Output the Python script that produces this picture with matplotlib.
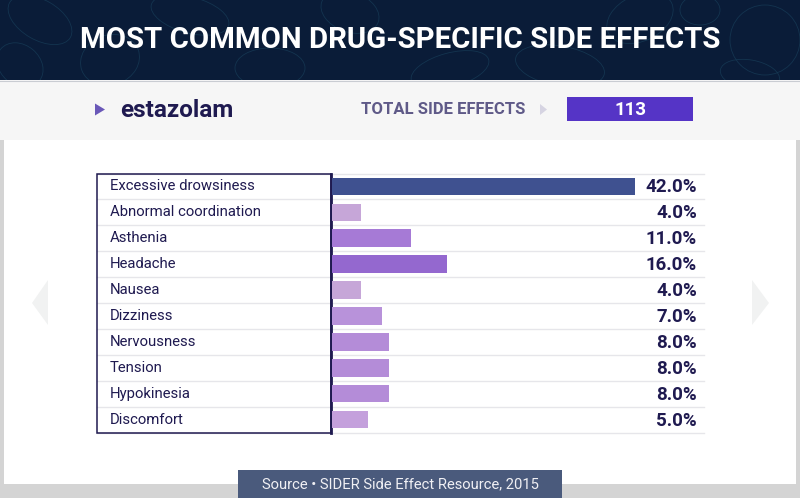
import matplotlib
matplotlib.use("Agg")
import matplotlib.pyplot as plt
from matplotlib.patches import Rectangle, Polygon, Ellipse

title = "MOST COMMON DRUG-SPECIFIC SIDE EFFECTS"
drug = "estazolam"
total_label = "TOTAL SIDE EFFECTS"
total_value = "113"
source = "Source • SIDER Side Effect Resource, 2015"
effects = ["Excessive drowsiness", "Abnormal coordination", "Asthenia", "Headache", "Nausea",
           "Dizziness", "Nervousness", "Tension", "Hypokinesia", "Discomfort"]
values = [42.0, 4.0, 11.0, 16.0, 4.0, 7.0, 8.0, 8.0, 8.0, 5.0]
bar_colors = ["#3f5190", "#c6a6d8", "#a67ad6", "#9468cf", "#c6a6d8",
              "#b892da", "#b48cd8", "#b48cd8", "#b48cd8", "#c4a0dc"]

INK = "#1f1a50"
W, H = 800, 498
fig = plt.figure(figsize=(8, 4.98), dpi=100, facecolor="#d4d4d4")
bg = fig.add_axes([0, 0, 1, 1])
bg.set_xlim(0, W); bg.set_ylim(H, 0); bg.axis("off")

bg.add_patch(Rectangle((4, 140), 792, 344, fc="white", ec="none"))
bg.add_patch(Rectangle((0, 0), W, 80, fc="#0a1c38", ec="none"))
# faint doodle texture in the header
for cx, cy, w, h, a in [(40, 20, 70, 40, 30), (110, 60, 60, 50, -20), (190, 15, 80, 36, 15),
                        (270, 68, 70, 40, 0), (350, 12, 60, 40, 20), (450, 70, 80, 34, -15),
                        (560, 66, 90, 40, 10), (640, 18, 70, 46, -25), (700, 10, 40, 30, 0),
                        (765, 40, 70, 70, 0), (750, 75, 60, 30, 10), (20, 65, 50, 40, 40)]:
    bg.add_patch(Ellipse((cx, cy), w, h, angle=a, fc="none", ec="#163a55", lw=0.6, alpha=.8))
bg.add_patch(Rectangle((0, 80), W, 60, fc="#f6f6f6", ec="none"))
bg.plot([0, W], [80.5, 80.5], color="#c9ccd2", lw=0.8)

bg.text(400, 40, title, color="white", ha="center", va="center", fontsize=21.2,
        family="Roboto", fontweight="bold")
bg.add_patch(Polygon([(95, 103.5), (95, 115.5), (105, 109.5)], fc="#6a58b8", ec="none"))
bg.text(120, 110, drug, color=INK, ha="left", va="center", fontsize=17.5, family="Roboto", fontweight="bold")
bg.text(525, 109, total_label, color="#5f5a88", ha="right", va="center", fontsize=12,
        family="Roboto", fontweight="bold")
bg.add_patch(Polygon([(540, 104), (540, 115), (547, 109.5)], fc="#d6d4e2", ec="none"))
bg.add_patch(Rectangle((567, 97), 126, 24, fc="#5534c6", ec="none"))
bg.text(630, 109.5, total_value, color="white", ha="center", va="center", fontsize=13.5,
        family="Roboto", fontweight="bold")
bg.add_patch(Polygon([(32, 303), (48, 280), (48, 325)], fc="#f1f2f2", ec="none"))
bg.add_patch(Polygon([(769, 303), (752, 280), (752, 325)], fc="#f1f2f2", ec="none"))

# bar chart axes: spans x 331.8..634.5 px for 0..42, ten rows y 173.5..432.5
X0, X1, Y0, Y1 = 331.8, 634.5, 173.5, 432.5
ax = fig.add_axes([X0 / W, 1 - Y1 / H, (X1 - X0) / W, (Y1 - Y0) / H])
ax.patch.set_alpha(0); ax.axis("off")
ax.set_xlim(0, max(values)); ax.set_ylim(len(values) - .5, -.5)
rows = range(len(values))
ax.barh(list(rows), values, height=0.68, color=bar_colors, zorder=3)

row_h = (Y1 - Y0) / len(values)
for i in range(len(values) + 1):
    bg.plot([97, 704], [Y0 + i * row_h] * 2, color="#e6e6ea", lw=1, zorder=1)
for i, (name, v) in enumerate(zip(effects, values)):
    yc = Y0 + (i + .5) * row_h
    bg.text(110, yc, name, color=INK, ha="left", va="center", fontsize=10.75, family="Roboto")
    bg.text(697, yc + 1, f"{v:.1f}%", color=INK, ha="right", va="center", fontsize=13.5,
            family="Roboto", fontweight="bold")
bg.add_patch(Rectangle((97, Y0), 234, Y1 - Y0, fc="none", ec=INK, lw=1.1, zorder=4))
bg.plot([331, 331], [Y0, Y1], color=INK, lw=2, zorder=4)

bg.add_patch(Rectangle((238, 470), 324, 28, fc="#4a5a7c", ec="none", zorder=5))
bg.text(400, 484, source, color="#f0f0f4", ha="center", va="center", fontsize=10.65, family="Roboto", zorder=6)

fig.savefig("out.png", dpi=100, facecolor=fig.get_facecolor())
